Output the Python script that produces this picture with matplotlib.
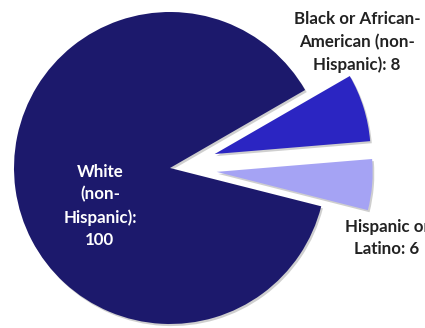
import matplotlib
matplotlib.use("Agg")
import matplotlib.pyplot as plt
import matplotlib.patheffects as pe

# Population by race / ethnicity
categories = ["White (non-Hispanic)", "Hispanic or Latino",
              "Black or African-American (non-Hispanic)"]
values = [100, 6, 8]
label_texts = ["White\n(non-\nHispanic):\n100",
               "Hispanic or\nLatino: 6",
               "Black or African-\nAmerican (non-\nHispanic): 8"]
colors = ["#1c196c", "#a5a3f4", "#2b25c2"]
explode = [0.0, 0.3, 0.3]

W, H = 425, 328
fig = plt.figure(figsize=(W / 100, H / 100), dpi=100)
ax = fig.add_axes([0, 0, 1, 1])

cx, cy, r = 170, 168, 156  # pie centre and radius in pixels

shadow = [pe.SimplePatchShadow(offset=(1.2, -1.5), shadow_rgbFace="#777777", alpha=0.35),
          pe.Normal()]
ax.pie(values, colors=colors, explode=explode, startangle=30,
       counterclock=True, radius=1.0, center=(0, 0), frame=True,
       wedgeprops=dict(linewidth=0, path_effects=shadow))
ax.set_xlim(-cx / r, (W - cx) / r)
ax.set_ylim(-(H - cy) / r, cy / r)
ax.set_aspect("auto")
ax.axis("off")

font = dict(family=["Lato", "DejaVu Sans"], fontweight="bold", fontsize=12.2,
            ha="center", va="center", linespacing=1.5)
positions = [(100, 206), (387, 238), (357, 42)]
text_colors = ["white", "#222222", "#222222"]
for txt, (px, py), col in zip(label_texts, positions, text_colors):
    ax.text(px / W, 1 - py / H, txt, color=col, transform=fig.transFigure, **font)

fig.savefig("out.png", dpi=100)
